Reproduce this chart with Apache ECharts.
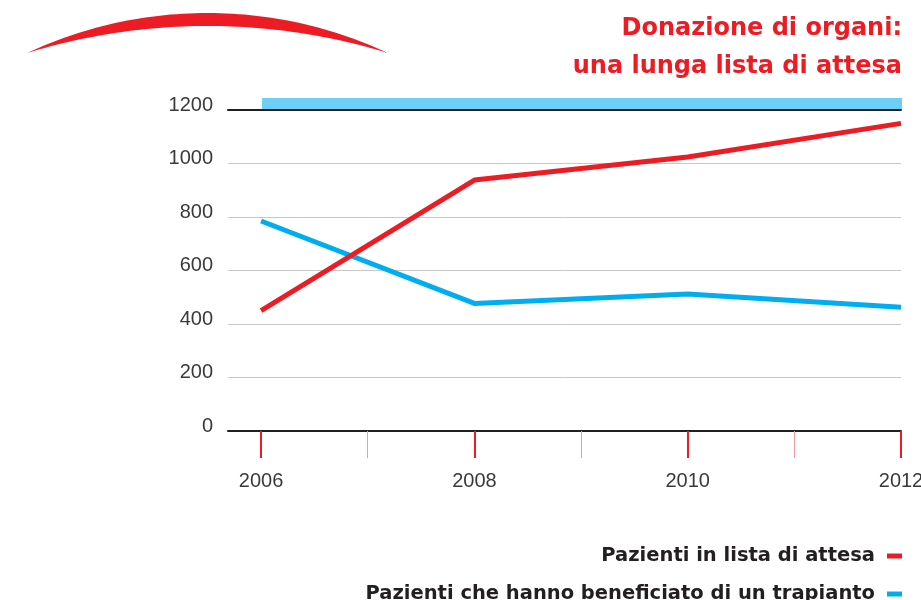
<!DOCTYPE html>
<html>
<head>
<meta charset="utf-8">
<script src="https://cdn.jsdelivr.net/npm/echarts@6/dist/echarts.min.js"></script>
<style>
  html, body { margin: 0; padding: 0; background: #ffffff; }
  #chart { width: 921px; height: 600px; }
</style>
</head>
<body>
<div id="chart"></div>
<script>
// ---- data ----
const years = [2006, 2008, 2010, 2012];
const waiting = [450, 938, 1024, 1150];        // Pazienti in lista di attesa
const transplanted = [785, 477, 512, 463];     // Pazienti che hanno beneficiato di un trapianto
const majorYears = [2006, 2008, 2010, 2012];
const minorYears = [2007, 2009, 2011];
const seriesNames = ['Pazienti in lista di attesa', 'Pazienti che hanno beneficiato di un trapianto'];
const titleLines = ['Donazione di organi:', 'una lunga lista di attesa'];
const yMin = 0, yMax = 1200, yStep = 200;

// ---- chart ----
const RED = '#ed1c24';
const BLUE = '#00aeef';
const xMin = 2005.69, xMax = 2012;
const chart = echarts.init(document.getElementById('chart'));

const labelFont = { fontFamily: '"Liberation Sans", Arial, sans-serif', fontSize: 20, color: '#3a3a3a' };

// crescent decoration (two circular arcs)
function arcPoints(x0, x1, yEnd, sag, n) {
  const half = (x1 - x0) / 2, cx = (x0 + x1) / 2;
  const R = (half * half + sag * sag) / (2 * sag);
  const cy = yEnd - sag + R;
  const a0 = Math.asin(half / R);
  const pts = [];
  for (let i = 0; i <= n; i++) {
    const a = -a0 + (2 * a0 * i) / n;
    pts.push([cx + R * Math.sin(a), cy - R * Math.cos(a)]);
  }
  return pts;
}
const outer = arcPoints(27, 388, 53, 40, 60);
const inner = arcPoints(27, 388, 53, 27, 60).reverse();
const crescent = outer.concat(inner);

const option = {
  animation: false,
  backgroundColor: '#ffffff',
  grid: { left: 228, right: 20, top: 110, bottom: 169, containLabel: false, outerBoundsMode: 'none' },
  xAxis: [
    {
      type: 'value', min: xMin, max: xMax, position: 'bottom', offset: 0,
      axisLine: { lineStyle: { color: '#231f20', width: 2 } },
      axisTick: { customValues: majorYears, length: 27, lineStyle: { color: RED, width: 2 } },
      axisLabel: Object.assign({ customValues: majorYears, margin: 40, formatter: v => String(v) }, labelFont),
      splitLine: { show: false }
    },
    {
      type: 'value', min: xMin, max: xMax, position: 'bottom', offset: 0,
      axisLine: { show: false },
      axisTick: { customValues: minorYears, length: 27, lineStyle: { color: '#f59a9e', width: 1 } },
      axisLabel: { show: false },
      splitLine: { show: false }
    },
    {
      type: 'value', min: xMin, max: xMax, position: 'top', offset: 0,
      axisLine: { lineStyle: { color: '#231f20', width: 2 } },
      axisTick: { show: false },
      axisLabel: { show: false },
      splitLine: { show: false }
    }
  ],
  yAxis: {
    type: 'value', min: yMin, max: yMax, interval: yStep,
    axisLine: { show: false },
    axisTick: { show: false },
    axisLabel: Object.assign({ margin: 15, verticalAlign: 'bottom', lineHeight: 10, formatter: v => String(v) }, labelFont),
    splitLine: { lineStyle: { color: '#c8c8c8', width: 1 } }
  },
  legend: {
    orient: 'vertical', right: 19, top: 546, height: 80, padding: 0, align: 'right',
    icon: 'rect', itemWidth: 15, itemHeight: 5, itemGap: 18,
    data: seriesNames,
    textStyle: {
      fontFamily: '"DejaVu Sans", sans-serif', fontWeight: 'bold', fontSize: 19.5,
      color: '#231f20', lineHeight: 20, padding: [0, 7, 0, 0]
    }
  },
  series: [
    {
      name: seriesNames[1], type: 'line', xAxisIndex: 0, yAxisIndex: 0,
      data: years.map((y, i) => [y, transplanted[i]]),
      showSymbol: false, symbol: 'none', clip: false,
      lineStyle: { color: BLUE, width: 5 }, itemStyle: { color: BLUE }, z: 3
    },
    {
      name: seriesNames[0], type: 'line', xAxisIndex: 0, yAxisIndex: 0,
      data: years.map((y, i) => [y, waiting[i]]),
      showSymbol: false, symbol: 'none', clip: false,
      lineStyle: { color: RED, width: 5 }, itemStyle: { color: RED }, z: 4
    }
  ]
};
chart.setOption(option);

// decorative elements placed from the axes' own scale
const pStart = chart.convertToPixel({ xAxisIndex: 0, yAxisIndex: 0 }, [years[0], yMax]);
const pEnd = chart.convertToPixel({ xAxisIndex: 0, yAxisIndex: 0 }, [years[years.length - 1], yMax]);

chart.setOption({
  graphic: [
    {
      type: 'polygon', id: 'arc',
      shape: { points: crescent },
      style: { fill: RED }
    },
    {
      type: 'rect', id: 'bar',
      shape: { x: pStart[0] + 1, y: pStart[1] - 12, width: pEnd[0] - pStart[0], height: 11 },
      style: { fill: '#6dcff6' }
    },
    {
      type: 'text', id: 'title',
      x: 902, y: 10,
      style: {
        text: titleLines.join('\n'),
        align: 'right', verticalAlign: 'top',
        fontFamily: '"DejaVu Sans", sans-serif', fontWeight: 'bold', fontSize: 24,
        lineHeight: 38, fill: RED
      }
    }
  ]
});
</script>
</body>
</html>
